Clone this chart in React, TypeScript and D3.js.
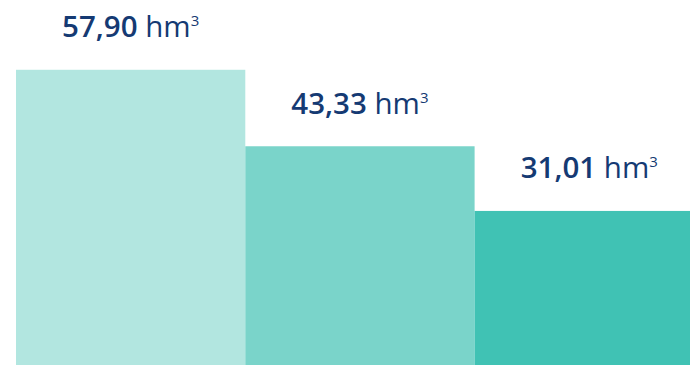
import React from "react";
import * as d3 from "d3";

const categories = ["A", "B", "C"];
const values = [57.9, 43.33, 31.01];
const valueLabels = ["57,90", "43,33", "31,01"];
const unitLabel = "hm";
const colors = ["#B2E6E0", "#7AD4CA", "#40C2B4"];

const W = 690;
const H = 365;

export default function App() {
  const x = d3.scaleBand<string>().domain(categories).range([16, 16 + 3 * 229.3]).padding(0);
  const y = d3.scaleLinear().domain([0, 60]).range([373.7, 373.7 - 5.249 * 60]);
  return (
    <svg
      width={W}
      height={H}
      style={{ position: "absolute", left: 0, top: 0, display: "block" }}
      fontFamily="'Open Sans', Lato, sans-serif"
    >
      {categories.map((c, i) => {
        const x0 = x(c)!;
        const top = y(values[i]);
        return (
          <g key={c}>
            <rect x={x0} y={top} width={x.bandwidth()} height={y(0) - top} fill={colors[i]} />
            <text
              x={x0 + x.bandwidth() / 2}
              y={top - 32.5}
              textAnchor="middle"
              fill="#153A73"
              fontSize={29.5}
            >
              <tspan fontWeight={600}>{valueLabels[i]}</tspan>
              <tspan fontWeight={400}> {unitLabel}</tspan>
              <tspan fontWeight={400} fontSize={15} dy={-11}>3</tspan>
            </text>
          </g>
        );
      })}
    </svg>
  );
}
